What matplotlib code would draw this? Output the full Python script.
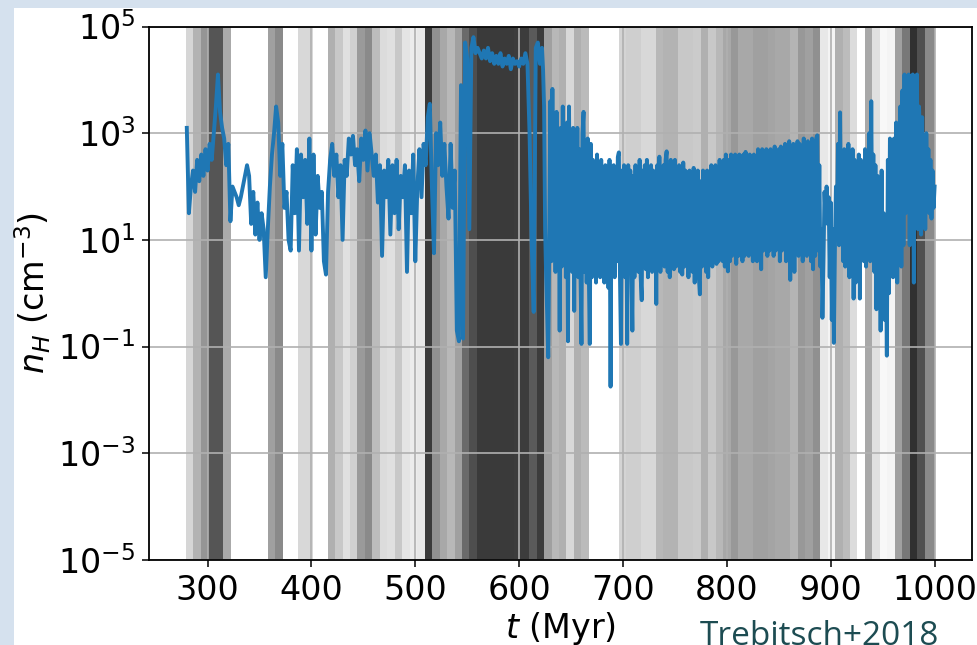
import numpy as np
import matplotlib
matplotlib.use("Agg")
import matplotlib.pyplot as plt
from matplotlib.patches import Rectangle
from matplotlib.ticker import NullLocator

# ---- gas density, log10 n_H (cm^-3) ----
# early phase, sampled every 2 Myr from 280 to 622 Myr
early_t0, early_step = 280, 2
log_nH_early = [
    3.1, 1.5, 2.0, 2.3, 1.9, 2.5, 2.1, 2.6, 2.2, 2.7,          # 280
    2.3, 2.8, 2.5, 3.0, 3.5, 4.1, 3.4, 3.1, 2.9, 2.4,          # 300
    2.8, 1.35, 2.0, 1.9, 1.8, 1.65, 1.8, 2.0, 2.2, 2.4,        # 320
    2.2, 1.3, 1.9, 1.1, 1.7, 1.0, 1.5, 1.2, 0.3, 1.2,          # 340
    2.0, 2.6, 3.0, 3.5, 3.2, 2.2, 2.8, 1.6, 1.9, 1.0,          # 360
    0.8, 2.4, 1.5, 2.7, 0.8, 2.6, 1.8, 2.5, 1.3, 2.9,          # 380
    0.8, 2.6, 1.1, 2.2, 1.6, 1.9, 0.6, 0.35, 1.9, 2.5,         # 400
    2.8, 2.2, 2.6, 1.8, 2.4, 1.0, 2.5, 2.2, 2.9, 2.6,          # 420
    2.95, 2.4, 2.7, 2.1, 2.9, 2.5, 3.05, 2.3, 3.0, 2.6,        # 440
    2.2, 2.6, 1.7, 2.4, 0.7, 2.3, 1.8, 2.5, 1.1, 2.4,          # 460
    1.5, 2.5, 1.2, 2.2, 1.8, 2.4, 0.4, 2.3, 1.5, 2.6,          # 480
    0.6, 2.0, 2.7, 1.8, 2.8, 2.4, 3.3, 3.55, 2.0, 0.75,        # 500
    3.0, 2.4, 3.2, 2.2, 2.8, 2.0, 1.4, 2.8, 1.6, 2.3,          # 520
    -0.7, -0.9, 3.9, -0.85, 4.7, 4.4, 1.2, 4.6, 4.8, 4.5,      # 540
    4.6, 4.5, 4.4, 4.55, 4.4, 4.6, 4.35, 4.5, 4.3, 4.45,       # 560
    4.3, 4.5, 4.25, 4.4, 4.3, 4.45, 4.2, 4.4, 4.3, 4.35,       # 580
    4.25, 4.4, 4.3, 4.5, 4.3, 3.0, 1.0, -0.35, 4.6, 4.7,       # 600
    4.3, 4.6,                                                  # 620
]
# late, strongly fluctuating phase, sampled every 1 Myr from 623 to 1000 Myr
late_t0, late_step = 623, 1
log_nH_late = [
    4.2, 3.5, 1.2, 0.3, -0.4, -1.2, 1.0, 3.6, 0.6, 3.83,       # 623
    0.8, 3.2, 0.4, 3.4, 0.9, 2.9, -0.7, 3.1, 0.5, 3.5,         # 633
    0.6, 3.0, 0.3, 3.2, -0.9, 3.5, 0.7, 2.9, 0.4, 3.1,         # 643
    -0.33, 2.8, 0.6, 3.1, 0.3, 2.7, 0.5, -0.95, 3.0, 3.4,      # 653
    0.4, 2.6, 0.2, 2.9, 0.5, -0.95, 2.8, 0.3, 2.5, 0.6,        # 663
    2.4, 0.2, 2.6, 0.5, 2.3, 0.3, 2.5, 0.6, 2.2, 0.2,          # 673
    2.4, 0.4, 2.3, 0.1, 2.5, -1.75, 2.2, 0.5, 2.4, 0.3,        # 683
    2.3, 0.6, 2.55, 2.64, 0.4, -0.95, 2.3, 0.5, 2.4, 0.3,      # 693
    2.2, -0.95, 2.4, 0.4, 2.3, 0.5, -0.7, 2.2, 0.3, 2.4,       # 703
    0.5, 2.2, 0.4, 2.5, 0.3, -0.13, 2.3, 0.6, 2.4, 0.45,       # 713
    2.5, 0.3, 2.2, 0.5, 2.4, 0.4, 2.3, 0.6, 2.2, -0.2,         # 723
    2.4, 0.5, 2.56, 0.4, 2.3, 0.6, 2.4, 0.5, 2.5, 2.66,        # 733
    0.4, 2.4, 0.3, 2.5, 0.6, 2.3, 0.45, 2.5, 0.5, 2.3,         # 743
    0.55, 2.4, 0.4, 2.3, 0.35, 2.45, 0.5, 2.3, 0.6, 2.2,       # 753
    0.3, 2.3, 0.5, 2.1, 0.4, 2.35, 0.2, 2.2, 0.5, 2.3,         # 763
    0.3, -0.02, 2.1, 0.5, 2.3, 0.6, 2.2, 0.4, 2.3, 0.3,        # 773
    2.2, 0.6, 2.4, 0.5, 2.3, 0.7, 2.4, 0.55, 2.3, 0.6,         # 783
    2.5, 0.7, 2.4, 0.6, 2.5, 0.5, 2.6, 0.7, 0.41, 2.5,         # 793
    0.6, 2.6, 0.7, 2.5, 0.8, 2.6, 0.55, 2.5, 0.7, 2.6,         # 803
    0.8, 2.5, 0.6, 2.6, 0.7, 2.65, 0.8, 2.5, 0.7, 2.6,         # 813
    0.8, 2.5, 0.6, 2.6, 0.7, 2.55, 0.6, 2.7, 0.8, 2.6,         # 823
    0.45, 2.7, 0.8, 2.6, 0.9, 2.7, 0.7, 2.65, 0.8, 2.7,        # 833
    0.9, 2.6, 0.7, 2.75, 0.8, 2.6, 0.9, 2.7, 0.6, 2.75,        # 843
    0.8, 2.7, 0.9, 2.8, 0.6, 2.7, 0.8, 2.85, 0.25, 2.7,        # 853
    0.5, 2.8, 0.4, 2.7, 0.8, 2.85, 0.7, 2.8, 0.9, 2.75,        # 863
    0.6, 2.9, 0.8, 2.8, 0.7, 2.85, 0.9, 2.8, 0.6, 2.9,         # 873
    0.45, 2.85, 0.7, 2.9, 2.96, 0.8, 2.4, 0.5, 1.2, -0.46,     # 883
    0.6, 1.9, 1.4, 2.0, 1.3, 1.8, 0.3, 1.7, -0.5, 1.2,         # 893
    -0.93, 0.8, 2.0, 1.2, 2.8, 0.9, 3.39, 1.0, 2.6, 0.6,       # 903
    2.7, 0.5, 2.5, 0.6, 2.8, 0.3, 2.6, 0.5, 2.7, -0.1,         # 913
    2.5, 0.2, 2.4, 0.7, 2.6, -0.1, 2.5, 1.5, 2.4, 0.6,         # 923
    2.7, 0.5, 2.5, 0.8, 3.0, 0.6, 3.6, 0.8, 2.6, 0.4,          # 933
    2.4, -0.3, 2.2, 0.5, 2.0, -0.7, 2.3, 0.2, 1.5, -0.5,       # 943
    1.2, -1.17, 2.5, 0.0, 2.9, 0.5, 2.6, 0.3, 2.9, 0.6,        # 953
    3.2, 0.2, 2.8, 0.8, 3.5, 0.5, 3.8, 0.9, 4.1, 1.5,          # 963
    3.9, 2.5, 4.1, 0.9, 4.0, 2.0, 4.1, 0.2, 3.9, 1.5,          # 973
    4.1, 1.2, 3.5, 2.8, 1.1, 3.3, 1.5, 2.9, 1.2, 3.0,          # 983
    1.8, 2.7, 1.5, 2.5, 1.4, 2.3, 1.6, 2.0,                    # 993
]

# ---- shaded time bins: grey level (0 black .. 255 white) per bin ----
band_t0, band_width, band_t_end = 279.1, 7.185, 1000.0
band_grey = [
    214, 179, 149, 85, 85, 170, 255, 255, 255, 255,
    255, 160, 138, 255, 255, 216, 216, 255, 255, 176,
    200, 224, 208, 154, 138, 188, 220, 224, 200, 228,
    236, 232, 58, 144, 168, 184, 160, 106, 78, 58,
    58, 58, 58, 58, 60, 60, 90, 60, 160, 184,
    176, 216, 176, 187, 255, 255, 255, 255, 212, 207,
    207, 216, 216, 184, 179, 179, 200, 200, 203, 176,
    200, 184, 168, 152, 168, 168, 160, 160, 164, 168,
    168, 180, 152, 160, 144, 232, 244, 176, 188, 220,
    255, 168, 224, 248, 244, 160, 120, 48, 80, 138,
]

x_ticks = [300, 400, 500, 600, 700, 800, 900, 1000]
y_ticks = [1e-5, 1e-3, 1e-1, 1e1, 1e3, 1e5]

t = np.concatenate([early_t0 + early_step * np.arange(len(log_nH_early)),
                    late_t0 + late_step * np.arange(len(log_nH_late))])
nH = 10.0 ** np.asarray(log_nH_early + log_nH_late)

W, H = 977, 645
fig = plt.figure(figsize=(W / 100, H / 100), dpi=100, facecolor="#d5e1ee")
fig.patches.append(Rectangle((14 / W, 0), 1, 1 - 8 / H, transform=fig.transFigure,
                             facecolor="white", edgecolor="none", zorder=-5))

ax_left, ax_right, ax_top, ax_bottom = 149.4, 972.0, 26.5, 560.0
ax = fig.add_axes([ax_left / W, 1 - ax_bottom / H,
                   (ax_right - ax_left) / W, (ax_bottom - ax_top) / H])

# shaded bins
n_bins = len(band_grey)
for k, g in enumerate(band_grey):
    lo = band_t0 + k * band_width
    hi = band_t_end if k == n_bins - 1 else band_t0 + (k + 1) * band_width
    if g >= 255:
        continue
    ax.axvspan(lo, hi, facecolor=(g / 255,) * 3, edgecolor="none",
               linewidth=0, zorder=0.1)

ax.plot(t, nH, color="#1f77b4", linewidth=2.8, zorder=3)

ax.set_yscale("log")
ax.set_ylim(1e-5, 1e5)
ax.set_xlim(244, 1036)
ax.set_xticks(x_ticks)
ax.set_yticks(y_ticks)
ax.yaxis.set_minor_locator(NullLocator())
ax.set_axisbelow(True)
ax.grid(True, color="#b0b0b0", linewidth=1.2, zorder=0.5)
for gl in ax.get_xgridlines() + ax.get_ygridlines():
    gl.set_zorder(0.5)

ax.tick_params(axis="both", which="major", labelsize=24, length=5,
               width=1.1, color="black", pad=5)
for sp in ax.spines.values():
    sp.set_linewidth(1.3)

ax.set_xlabel(r"$t$ (Myr)", fontsize=24, labelpad=2)
ax.set_ylabel(r"$n_H$ (cm$^{-3}$)", fontsize=24, labelpad=4)

fig.text(700 / W, 1 - 620 / H, "Trebitsch+2018", fontsize=24,
         family="Open Sans", color="#1d4c52", va="top", ha="left")

fig.savefig("out.png", dpi=100, facecolor=fig.get_facecolor())
